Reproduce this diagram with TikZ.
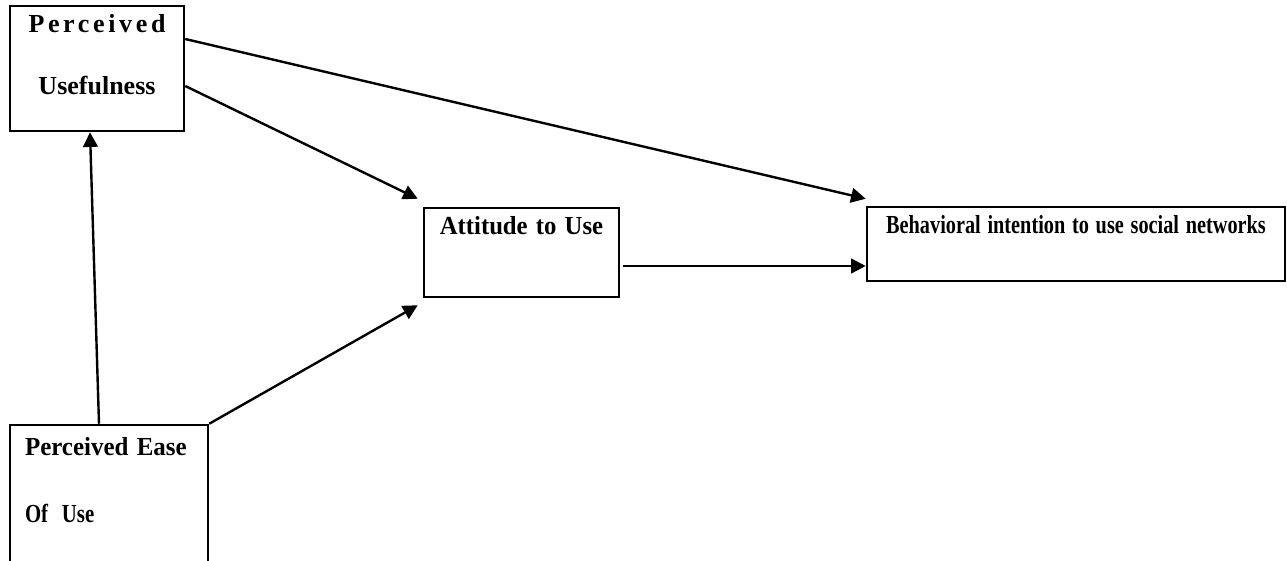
\documentclass[tikz,border=0pt]{standalone}
\usepackage{fontspec}
\setmainfont{Liberation Serif}
\usepackage{tikz}
\usetikzlibrary{calc,arrows.meta}

\begin{document}
\begin{tikzpicture}[
  x=0.75pt, y=-0.75pt,
  n/.style={draw, line width=1.9pt, inner sep=0pt,
    font=\bfseries\fontsize{19.5}{23}\selectfont},
  arr/.style={-{Triangle[length=11pt,width=11pt]}, line width=1.8pt}
]
\clip (0,0) rectangle (1287,560);
\fill[white] (0,0) rectangle (1287,560);

\node[n, text width=130.5pt, minimum height=93.75pt, align=center,
  text height=20.25pt, text depth=73.5pt] (pu) at (97,68.5)
  {{\addfontfeature{LetterSpace=14}Perceived}\\[23.5pt]Usefulness};
\node[n, minimum height=116.25pt, inner xsep=11.25pt, text width=126pt,
  align=left, text height=22.5pt, text depth=93.75pt] (pe) at (109,502.5)
  {\scalebox{0.96}[1]{Perceived Ease}\\[27.25pt]\scalebox{0.8}[1]{Of~ Use}};
\node[n, text width=146.25pt, minimum height=66.75pt, align=center,
  text height=19.5pt, text depth=47.25pt] (att) at (521.5,252.5)
  {\scalebox{0.95}[1]{Attitude to Use}};
\node[n, text width=313.5pt, minimum height=55.5pt, align=center,
  text height=19.5pt, text depth=36pt] (bi) at (1076,244)
  {\scalebox{0.78}[1]{Behavioral intention to use social networks}};

\draw[arr] ($(pu.east)+(0,-29.5)$) -- ($(bi.north west)+(0,-7)$);
\draw[arr] ($(pu.east)+(0,17.5)$) -- ($(att.north west)+(-5,-8)$);
\draw[arr] ($(pe.north)+(-10,0)$) -- ($(pu.south)+(-7,0)$);
\draw[arr] (pe.north east) -- ($(att.south west)+(-5,7)$);
\draw[arr] ($(att.east)+(3,13.5)$) -- ($(bi.west)+(0,22)$);

\end{tikzpicture}
\end{document}
